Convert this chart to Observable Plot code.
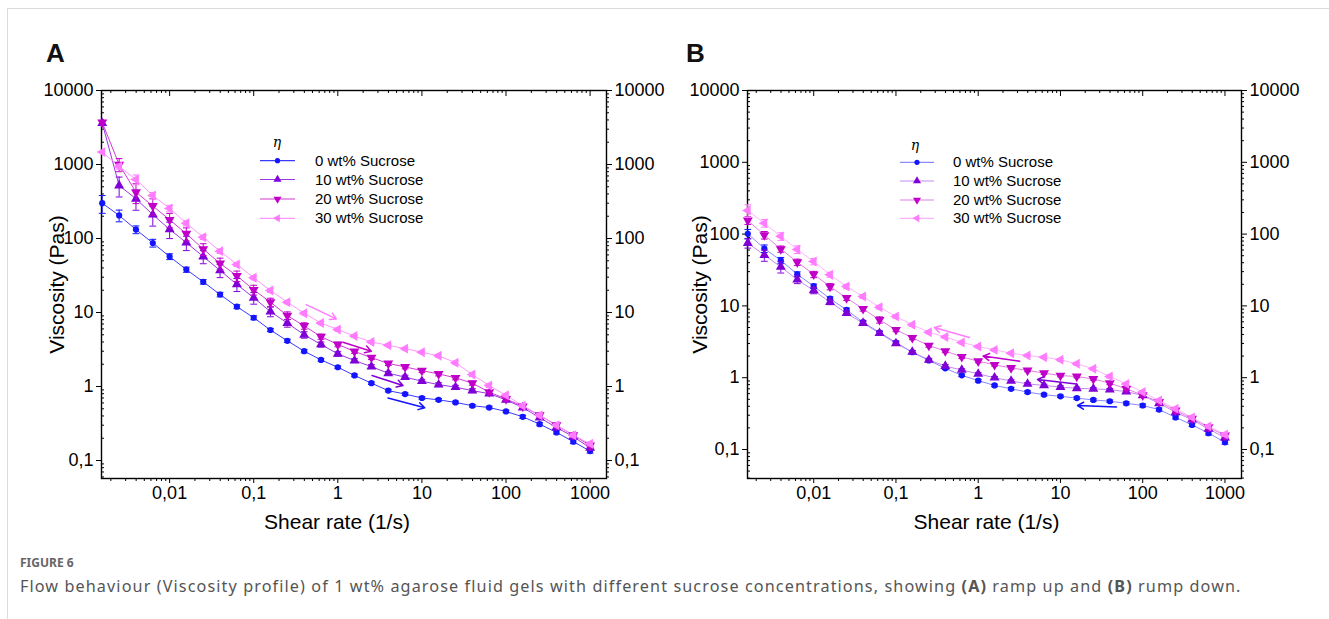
<!DOCTYPE html>
<html><head><meta charset="utf-8">
<script src="https://cdn.jsdelivr.net/npm/d3@7"></script>
<script src="https://cdn.jsdelivr.net/npm/@observablehq/plot@0.6"></script>
<style>
body{margin:0;background:#fff;font-family:"Liberation Sans",Arial,sans-serif;}
#page{position:relative;width:1329px;height:619px;overflow:hidden;background:#fff;}
.border{position:absolute;left:7px;top:8px;width:1400px;height:700px;border-left:1px solid #dcdcdc;border-top:1px solid #dcdcdc;}
.panel{position:absolute;top:0;}
.letter{position:absolute;font-weight:bold;font-size:26px;color:#111;}
#legend{position:absolute;left:0;top:0;}
.figno{position:absolute;left:20px;top:554px;font-family:"Noto Sans",sans-serif;font-size:12px;font-weight:bold;color:#666;}
.cap{position:absolute;left:20px;top:575px;font-family:"Noto Sans",sans-serif;font-size:16.2px;letter-spacing:1.1px;color:#555;white-space:nowrap;}
</style></head>
<body><div id="page">
<div class="border"></div>
<div class="letter" style="left:46px;top:38px">A</div>
<div class="letter" style="left:686px;top:38px">B</div>
<div id="pa" class="panel" style="left:0px"></div>
<div id="pb" class="panel" style="left:665px"></div>
<svg id="legend" width="1329" height="619"></svg>
<div class="figno">FIGURE 6</div>
<div class="cap">Flow behaviour (Viscosity profile) of 1 wt% agarose fluid gels with different sucrose concentrations, showing <b>(A)</b> ramp up and <b>(B)</b> rump down.</div>
</div>
<script>
// ---- data ----
const shearRate = [0.00158,0.00251,0.00398,0.00631,0.01,0.0158,0.0251,0.0398,0.0631,0.1,0.158,0.251,0.398,0.631,1,1.58,2.51,3.98,6.31,10,15.8,25.1,39.8,63.1,100,158,251,398,631,1000];
const seriesNames = ["0 wt% Sucrose","10 wt% Sucrose","20 wt% Sucrose","30 wt% Sucrose"];

// Panel A: ramp up (viscosity, Pa·s)
const rampUp0  = [300,205,132,87,57,38,26,17.5,12,8.5,5.8,4.15,3.0,2.29,1.82,1.41,1.11,0.88,0.79,0.70,0.66,0.61,0.55,0.52,0.46,0.39,0.31,0.24,0.18,0.134];
const rampUp10 = [3620,520,344,210,133,88,57,37,24,15.8,10.3,7.2,5.0,3.7,2.76,2.24,1.86,1.51,1.34,1.18,1.06,0.98,0.88,0.80,0.66,0.52,0.38,0.28,0.21,0.148];
const rampUp20 = [3700,1000,423,275,179,116,72,46,31.3,20.3,13.8,9.1,6.6,4.72,3.7,2.98,2.46,2.05,1.84,1.64,1.48,1.31,1.11,0.84,0.68,0.54,0.41,0.30,0.22,0.16];
const rampUp30 = [1470,940,627,381,255,161,104,67.5,44.6,29.5,19.8,13.8,9.8,7.2,5.9,4.8,4.0,3.6,3.25,2.9,2.6,2.1,1.45,1.03,0.76,0.55,0.41,0.30,0.22,0.168];
// relative error bars, panel A
const errUp0  = [0.27,0.18,0.12,0.12,0.09,0.08,0.07,0.07,0.06,0.06,0.05,0.05,0.05,0.04,0.04,0.04,0.04,0.04,0.04,0.04,0.04,0.04,0.04,0.04,0.04,0.05,0.05,0.05,0.06,0.06];
const errUp10 = [0,0.3,0.3,0.3,0.25,0.22,0.2,0.2,0.2,0.18,0.15,0.12,0.1,0.08,0.07,0.06,0.06,0.06,0.06,0.06,0.06,0.06,0.06,0.05,0.05,0.05,0.05,0.05,0.06,0.06];
const errUp20 = [0,0.2,0.3,0.25,0.22,0.2,0.18,0.18,0.16,0.15,0.13,0.12,0.1,0.08,0.07,0.06,0.06,0.06,0.06,0.06,0.06,0.06,0.06,0.05,0.05,0.05,0.05,0.05,0.06,0.06];
const errUp30 = [0,0.08,0.15,0.1,0.1,0.08,0.07,0.07,0.06,0.06,0.06,0.05,0.05,0.05,0.05,0.04,0.04,0.04,0.04,0.04,0.05,0.05,0.06,0.06,0.05,0.05,0.05,0.05,0.06,0.06];

// Panel B: ramp down
const rampDown0  = [101,63,43,27.6,18.8,12.6,8.8,5.93,4.26,3.09,2.26,1.74,1.35,1.08,0.91,0.78,0.70,0.63,0.58,0.55,0.52,0.49,0.47,0.44,0.41,0.36,0.28,0.22,0.169,0.126];
const rampDown10 = [75,51,35,23.2,16.4,11.3,7.9,5.76,4.17,3.0,2.28,1.77,1.45,1.28,1.13,1.0,0.90,0.82,0.78,0.74,0.71,0.70,0.68,0.64,0.565,0.44,0.33,0.26,0.194,0.146];
const rampDown20 = [155,97,62,40.7,27.5,18.6,12.9,9.1,6.4,4.65,3.6,2.8,2.35,1.95,1.70,1.51,1.37,1.26,1.16,1.07,1.04,0.96,0.84,0.70,0.57,0.46,0.35,0.27,0.205,0.157];
const rampDown30 = [213,142,93,61,41.5,27.2,18.6,13.5,9.6,7.1,5.45,4.3,3.7,3.1,2.72,2.44,2.19,2.04,1.93,1.78,1.56,1.33,1.04,0.82,0.63,0.48,0.37,0.28,0.21,0.162];
const errDown0  = [0.15,0.12,0.1,0.08,0.07,0.06,0.06,0.05,0.05,0.05,0.05,0.04,0.04,0.04,0.04,0.04,0.04,0.04,0.04,0.04,0.04,0.04,0.04,0.05,0.05,0.05,0.05,0.05,0.06,0.06];
const errDown10 = [0.15,0.18,0.18,0.12,0.1,0.08,0.07,0.06,0.06,0.05,0.05,0.05,0.05,0.04,0.04,0.04,0.04,0.04,0.04,0.04,0.04,0.04,0.04,0.05,0.05,0.05,0.05,0.05,0.06,0.06];
const errDown20 = [0.12,0.12,0.1,0.1,0.1,0.1,0.08,0.07,0.1,0.06,0.06,0.05,0.05,0.05,0.05,0.04,0.04,0.04,0.04,0.04,0.04,0.04,0.05,0.05,0.05,0.05,0.05,0.05,0.06,0.06];
const errDown30 = [0.2,0.12,0.12,0.12,0.1,0.08,0.07,0.06,0.06,0.05,0.05,0.05,0.05,0.04,0.04,0.04,0.04,0.04,0.04,0.04,0.05,0.05,0.05,0.05,0.05,0.05,0.05,0.05,0.06,0.06];

// direction arrows [series index, x1, y1, x2, y2]
const arrowsUp   = [[3,0.42,12.8,0.96,8.2],[2,1.15,3.97,2.5,3.0],[1,2.55,1.41,5.96,1.03],[0,3.95,0.70,10.8,0.515]];
const arrowsDown = [[3,0.78,3.63,0.293,5.0],[2,3.2,1.70,1.15,2.0],[1,15.6,0.82,5.25,0.944],[0,48,0.39,16.1,0.41]];

const xTickValues = [0.01,0.1,1,10,100,1000];
const yTickValues = [0.1,1,10,100,1000,10000];

// ---- styling ----
const markColors = ["#1414ff","#8000d8","#c000c8","#ff7cff"];
const lineColorsA = ["#3a3aff","#9a36e2","#d23ad2","#ff96ff"];
const lineColorsB = ["#8a8aff","#c48af2","#e27ee2","#ffb2ff"];
const s3 = Math.sqrt(3);
const triDown = {draw(c,size){const y=-Math.sqrt(size/(s3*3)); c.moveTo(0,-2*y); c.lineTo(-s3*y,y); c.lineTo(s3*y,y); c.closePath();}};
const triLeft = {draw(c,size){const y=-Math.sqrt(size/(s3*3)); c.moveTo(2*y,0); c.lineTo(-y,-s3*y); c.lineTo(-y,s3*y); c.closePath();}};
const capSym  = {draw(c,size){const w=Math.sqrt(size/Math.PI); c.moveTo(-w,0); c.lineTo(w,0);}};
const symbols = [d3.symbolCircle, d3.symbolTriangle, triDown, triLeft];
const symR = [3.1,3.7,3.7,3.7];
const fmt = d => String(d).replace(".", ",");

function minorTicks(lo, hi){
  const out=[];
  for(let e=Math.floor(Math.log10(lo)); e<=Math.ceil(Math.log10(hi)); e++)
    for(let m=2;m<=9;m++){const v=m*Math.pow(10,e); if(v>=lo && v<=hi) out.push(+v.toPrecision(3));}
  return out;
}

function panel({vals, errs, arrows, lineColors, width, height, mL, mR, mT, mB, xDom, yDom, yTitleDx, xTitleDx}){
  const pw = width - mL - mR, ph = height - mT - mB;
  const idx = d3.range(shearRate.length);
  const xMin = minorTicks(xDom[0], xDom[1]);
  const yMin = minorTicks(yDom[0], yDom[1]);
  const marks = [];
  marks.push(
    Plot.tickY(yMin, {y: d=>d, insetRight: pw-3, stroke:"#000"}),
    Plot.tickY(yMin, {y: d=>d, insetLeft: pw, insetRight: -3, stroke:"#000"}),
    Plot.tickX(xMin, {x: d=>d, insetBottom: ph-3, stroke:"#000"}),
    Plot.tickX(xTickValues, {x: d=>d, insetBottom: ph-6, stroke:"#000"}),
    Plot.tickX(xMin, {x: d=>d, insetTop: ph, insetBottom: -3, stroke:"#000"}),
    Plot.axisY(yTickValues, {anchor:"left", tickSize:5, tickPadding:3, tickFormat: fmt, label:null, fontSize:18}),
    Plot.axisY(yTickValues, {anchor:"right", tickSize:5, tickPadding:3, tickFormat: fmt, label:null, fontSize:18}),
    Plot.axisX(xTickValues, {anchor:"bottom", tickSize:5, tickPadding:3, tickFormat: fmt, label:null, fontSize:18}),
    Plot.frame({stroke:"#000", strokeWidth:1.4})
  );
  vals.forEach((v,si)=>{
    marks.push(Plot.line(idx, {x: i=>shearRate[i], y: i=>v[i], stroke: lineColors[si], strokeWidth: 1}));
  });
  vals.forEach((v,si)=>{
    const e = errs[si];
    const ei = idx.filter(i=>e[i]>0);
    marks.push(
      Plot.ruleX(ei, {x: i=>shearRate[i], y1: i=>v[i]*(1-e[i]), y2: i=>v[i]*(1+e[i]), stroke: markColors[si], strokeWidth: 1}),
      Plot.dot(ei, {x: i=>shearRate[i], y: i=>v[i]*(1+e[i]), symbol: capSym, r: 3.4, stroke: markColors[si], fill: "none", strokeWidth: 1}),
      Plot.dot(ei, {x: i=>shearRate[i], y: i=>v[i]*(1-e[i]), symbol: capSym, r: 3.4, stroke: markColors[si], fill: "none", strokeWidth: 1}),
      Plot.dot(idx, {x: i=>shearRate[i], y: i=>v[i], symbol: symbols[si], r: symR[si], fill: markColors[si], stroke: "none"})
    );
  });
  marks.push(Plot.arrow(arrows, {x1: d=>d[1], y1: d=>d[2], x2: d=>d[3], y2: d=>d[4], stroke: d=>markColors[d[0]], strokeWidth: 1.5, headLength: 7}));
  marks.push(
    Plot.text(["Viscosity (Pas)"], {frameAnchor:"left", textAnchor:"middle", lineAnchor:"middle", dx: yTitleDx, rotate:-90, fontSize:21, fill:"#000"}),
    Plot.text(["Shear rate (1/s)"], {frameAnchor:"bottom", textAnchor:"middle", lineAnchor:"middle", dy: 44, dx: xTitleDx, fontSize:21, fill:"#000"})
  );
  return Plot.plot({
    width, height, marginLeft: mL, marginRight: mR, marginTop: mT, marginBottom: mB,
    x: {type:"log", domain: xDom},
    y: {type:"log", domain: yDom},
    style: {fontFamily: "'Liberation Sans', Arial, sans-serif", color:"#000", background:"transparent", overflow:"visible"},
    marks
  });
}

document.getElementById("pa").append(panel({
  vals: [rampUp0, rampUp10, rampUp20, rampUp30],
  errs: [errUp0, errUp10, errUp20, errUp30],
  arrows: arrowsUp, lineColors: lineColorsA,
  width: 665, height: 545, mL: 101, mR: 59, mT: 90, mB: 67,
  xDom: [Math.pow(10,-2.81), Math.pow(10,3.195)], yDom: [Math.pow(10,-1.243), 10000],
  yTitleDx: -44, xTitleDx: -17
}));
document.getElementById("pb").append(panel({
  vals: [rampDown0, rampDown10, rampDown20, rampDown30],
  errs: [errDown0, errDown10, errDown20, errDown30],
  arrows: arrowsDown, lineColors: lineColorsB,
  width: 664, height: 545, mL: 82, mR: 88, mT: 90, mB: 67,
  xDom: [Math.pow(10,-2.805), Math.pow(10,3.201)], yDom: [Math.pow(10,-1.404), 10000],
  yTitleDx: -47, xTitleDx: -8
}));

// legends
const leg = d3.select("#legend");
function legend(x0, x1, xm, xt, ys, yEta, etaX, lineColors){
  leg.append("text").attr("x", etaX).attr("y", yEta).attr("text-anchor","middle")
    .attr("font-family","'DejaVu Serif', serif").attr("font-style","italic").attr("font-size",14).text("η");
  seriesNames.forEach((n,si)=>{
    const y = ys[si];
    leg.append("line").attr("x1",x0).attr("x2",x1).attr("y1",y).attr("y2",y).attr("stroke",lineColors[si]).attr("stroke-width",1.2);
    leg.append("path").attr("transform",`translate(${xm},${y})`).attr("fill",markColors[si])
      .attr("d", d3.symbol(symbols[si], (si===0?2.6:3)**2*Math.PI)());
    leg.append("text").attr("x",xt).attr("y",y+5).attr("font-family","'Liberation Sans', Arial, sans-serif").attr("font-size",15).text(n);
  });
}
legend(260, 295, 277.5, 315, [160.7,179.5,199,218.3], 147, 277, lineColorsA);
legend(900, 934, 917, 953, [162.3,181,200,218.3], 150, 915, lineColorsB);
</script>
</body></html>
